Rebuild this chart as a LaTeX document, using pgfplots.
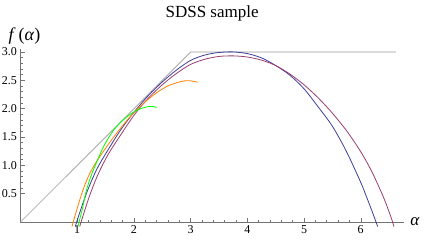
\documentclass[border=0pt]{standalone}
\usepackage{pgfplots}
\pgfplotsset{compat=1.18}
\usepackage{fontspec}
\setmainfont{Liberation Serif}
\definecolor{mblue}{rgb}{0.24,0.24,0.6}
\definecolor{mpurple}{rgb}{0.6,0.24,0.442}
\definecolor{morange}{rgb}{1,0.5,0}
\definecolor{mgreen}{rgb}{0,1,0}
\definecolor{mgray}{rgb}{0.6,0.6,0.6}
\definecolor{maxis}{rgb}{0.45,0.45,0.45}
\begin{document}
\begin{tikzpicture}
\begin{axis}[
  scale only axis,
  width=383.3pt, height=172.7pt,
  xmin=0, xmax=6.76, ymin=0, ymax=3.046,
  enlargelimits=false,
  clip=false,
  axis lines=left,
  axis line style={-, maxis, line width=0.5pt},
  tick align=inside,
  tick style={maxis, line width=0.4pt},
  major tick length=4pt,
  minor tick length=2.5pt,
  xtick={1,2,3,4,5,6},
  ytick={0.5,1,1.5,2,2.5,3},
  minor x tick num=4,
  minor y tick num=4,
  /pgf/number format/assume math mode=true,
  tick label style={font=\fontsize{12}{12}\selectfont},
  y tick label style={/pgf/number format/.cd, fixed, fixed zerofill, precision=1},
  xlabel={\textit{α}},
  xlabel style={at={(axis description cs:1,0)}, anchor=west, font=\fontsize{17}{17}\selectfont, xshift=3pt},
  ylabel={\textit{f}\,(\textit{α})},
  ylabel style={at={(axis description cs:0,1)}, anchor=south, rotate=-90, font=\fontsize{18}{18}\selectfont, xshift=4pt, yshift=1pt},
  title={SDSS sample},
  title style={at={(axis description cs:0.5,1)}, anchor=south, font=\fontsize{17}{17}\selectfont, yshift=19pt},
]
\addplot[mgray, line width=0.7pt] coordinates {(0,0) (3,3) (6.62,3)};
\addplot[mblue, line width=0.8pt, smooth] coordinates {
(0.966,-0.08) (1.0,0.03) (1.1,0.33) (1.2,0.60) (1.35,0.94) (1.5,1.20) (1.75,1.60)
(2.0,1.935) (2.25,2.225) (2.5,2.47) (2.75,2.68) (3.0,2.85) (3.25,2.945) (3.5,2.99)
(3.75,3.0) (4.0,2.97) (4.25,2.895) (4.5,2.76) (4.75,2.59) (5.0,2.35) (5.25,2.03)
(5.5,1.69) (5.75,1.24) (6.0,0.70) (6.1,0.45) (6.2,0.19) (6.27,0.0) (6.299,-0.08)};
\addplot[mpurple, line width=0.8pt, smooth] coordinates {
(1.044,-0.08) (1.1,0.10) (1.2,0.41) (1.3,0.68) (1.4,0.91) (1.55,1.20) (1.75,1.51)
(2.0,1.88) (2.25,2.18) (2.5,2.42) (2.75,2.62) (3.0,2.78) (3.25,2.87) (3.5,2.92)
(3.75,2.93) (4.0,2.91) (4.25,2.855) (4.5,2.76) (4.75,2.61) (5.0,2.42) (5.25,2.19)
(5.5,1.92) (5.75,1.61) (6.0,1.24) (6.2,0.88) (6.4,0.44) (6.5,0.18) (6.55,0.04) (6.585,-0.08)};
\addplot[morange, line width=0.8pt, smooth] coordinates {
(0.908,-0.08) (0.95,0.07) (1.0,0.24) (1.1,0.56) (1.2,0.81) (1.3,1.0) (1.43,1.20)
(1.6,1.44) (1.8,1.70) (2.0,1.93) (2.2,2.12) (2.4,2.28) (2.6,2.40) (2.8,2.47)
(2.9,2.49) (3.0,2.49) (3.125,2.465)};
\addplot[mgreen, line width=0.8pt, smooth] coordinates {
(1.014,-0.08) (1.05,0.07) (1.1,0.27) (1.16,0.55) (1.25,0.83) (1.35,1.07) (1.45,1.30)
(1.55,1.48) (1.65,1.63) (1.8,1.79) (1.95,1.91) (2.05,1.97) (2.15,2.01) (2.25,2.035)
(2.32,2.04) (2.40,2.02)};
\end{axis}
\pgfresetboundingbox
\path (-20.5pt,-19pt) rectangle (404.5pt,222pt);
\end{tikzpicture}
\end{document}
